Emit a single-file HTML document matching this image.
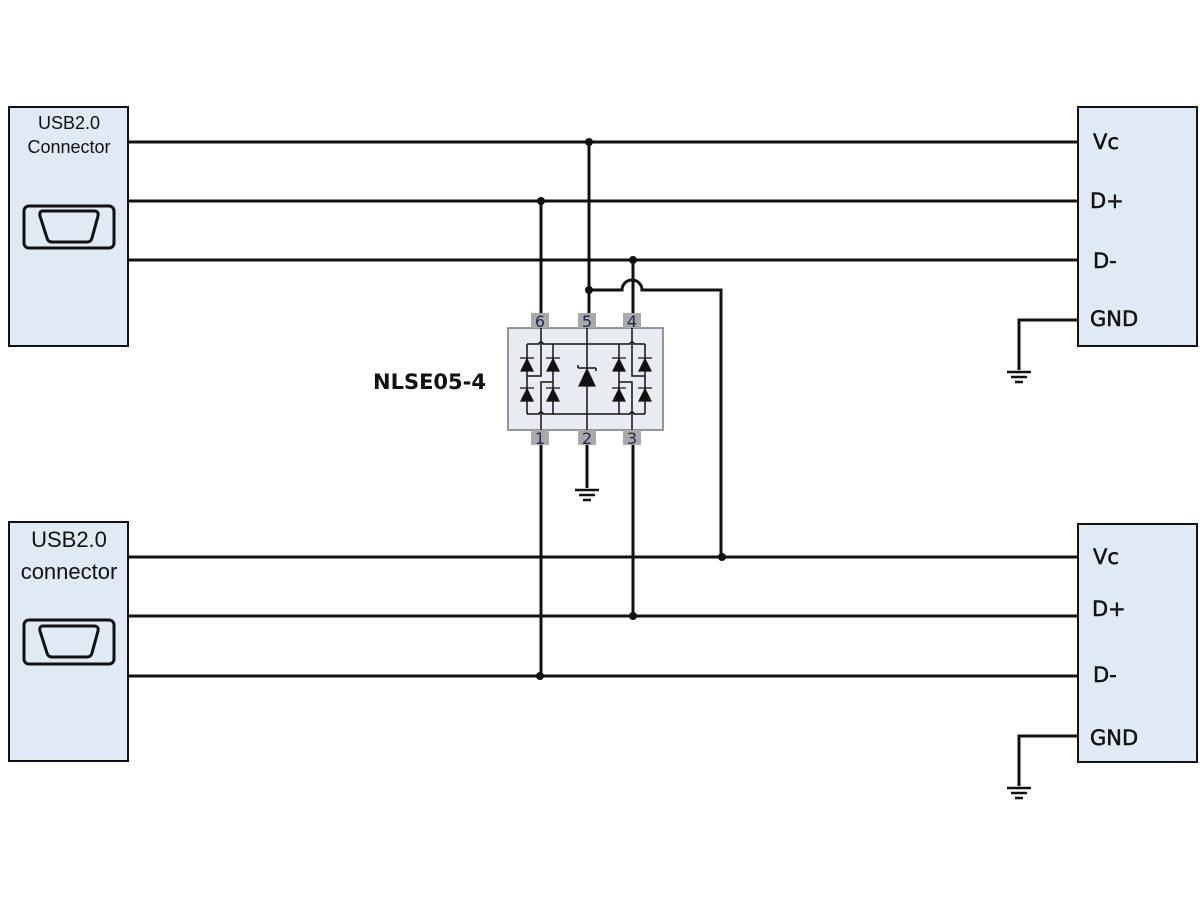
<!DOCTYPE html>
<html><head><meta charset="utf-8"><style>
html,body{margin:0;padding:0;background:#fff;}
svg{display:block;}
text{font-family:"Liberation Sans","Noto Sans CJK SC",sans-serif;}
g.b text, text.b{font-family:"DejaVu Sans","Liberation Sans",sans-serif;}
</style></head><body>
<svg width="1200" height="900" viewBox="0 0 1200 900" xmlns="http://www.w3.org/2000/svg">
<rect width="1200" height="900" fill="#fff"/>
<g fill="#dfeaf5" stroke="#111" stroke-width="2">
<rect x="9" y="107" width="119" height="239"/>
<rect x="1078" y="107" width="119" height="239"/>
<rect x="9" y="522" width="119" height="239"/>
<rect x="1078" y="524" width="119" height="238"/>
</g>
<g fill="none" stroke="#111" stroke-width="3">
<rect x="24" y="206" width="90" height="42" rx="5"/>
<path d="M43 211 H94 Q99 211 98 216 L92 238 Q91 242 87 242 H52 Q48 242 47 238 L40 216 Q39 211 43 211 Z"/>
<rect x="24" y="620" width="90" height="44" rx="5"/>
<path d="M43 626 H94 Q99 626 98 631 L92 653 Q91 657 87 657 H52 Q48 657 47 653 L40 631 Q39 626 43 626 Z"/>
</g>
<text x="69" y="129" font-size="18" text-anchor="middle" fill="#111">USB2.0</text>
<text x="69" y="153" font-size="18" text-anchor="middle" fill="#111">Connector</text>
<text x="69" y="547" font-size="22" text-anchor="middle" fill="#111">USB2.0</text>
<text x="69" y="579" font-size="22" text-anchor="middle" fill="#111">connector</text>
<g class="b" font-size="21" fill="#111" stroke="#111" stroke-width="0.5">
<text x="1093" y="149">Vc</text>
<text x="1090" y="208">D+</text>
<text x="1093" y="268">D-</text>
<text x="1090" y="326">GND</text>
<text x="1093" y="564">Vc</text>
<text x="1092" y="616">D+</text>
<text x="1093" y="682">D-</text>
<text x="1090" y="745">GND</text>
</g>
<text class="b" x="373" y="389" font-size="21" font-weight="bold" fill="#111">NLSE05-4</text>
<g stroke="#111" stroke-width="3" fill="none">
<path d="M128 142 H1078 M128 201 H1078 M128 260 H1078"/>
<path d="M128 557 H1078 M128 616 H1078 M128 676 H1078"/>
<path d="M541 201 V313 M541 444 V676"/>
<path d="M589 142 V313"/>
<path d="M633 260 V313 M633 444 V616"/>
<path d="M589 290 H622 A10 10 0 0 1 642 290 H721 V557"/>
<path d="M587 444 V488"/>
<path d="M1078 320 H1019 V370 M1078 736 H1019 V786"/>
</g>
<g stroke="#111" stroke-width="2.5">
<path d="M1007 372 H1031 M1011 377 H1027 M1015 382 H1023"/>
<path d="M1007 788 H1031 M1011 793 H1027 M1015 798 H1023"/>
<path d="M575 490 H599 M579 495 H595 M583 500 H591"/>
</g>
<g fill="#111">
<circle cx="541" cy="201" r="4"/><circle cx="589" cy="142" r="4"/><circle cx="633" cy="260" r="4"/>
<circle cx="589" cy="290" r="4"/><circle cx="722" cy="557" r="4"/><circle cx="633" cy="616" r="4"/>
<circle cx="540" cy="676" r="4"/>
</g>
<rect x="508" y="328" width="155" height="102" fill="#e8ecf2" stroke="#777" stroke-width="1.5"/>
<g fill="#a9a9a9">
<rect x="531" y="313" width="18" height="15"/><rect x="578" y="313" width="18" height="15"/><rect x="623" y="313" width="18" height="15"/>
<rect x="531" y="430" width="18" height="15"/><rect x="578" y="430" width="18" height="15"/><rect x="623" y="430" width="18" height="15"/>
</g>
<g class="b" font-size="16" fill="#1a2a55" text-anchor="middle">
<text x="540" y="327">6</text><text x="587" y="327">5</text><text x="632" y="327">4</text>
<text x="540" y="444">1</text><text x="587" y="444">2</text><text x="632" y="444">3</text>
</g>
<g stroke="#111" stroke-width="1.5" fill="none">
<path d="M527 344 H539 A2 2 0 0 1 543 344 H630 A2 2 0 0 1 634 344 H645"/>
<path d="M527 414 H539 A2 2 0 0 1 543 414 H630 A2 2 0 0 1 634 414 H645"/>
<path d="M527 344 V414 M553 344 V414 M619 344 V414 M645 344 V414"/>
<path d="M541 328 V376 H527 M541 430 V382 H553"/>
<path d="M632 328 V376 H645 M632 430 V382 H619"/>
<path d="M587 328 V430"/>
<path d="M578 368 H596 M578 368 V365 M596 368 V371"/>
</g>
<g fill="#111" stroke="#111" stroke-width="1.2">
<path d="M521 371 L533 371 L527 359 Z M520 358 H534"/>
<path d="M521 401 L533 401 L527 389 Z M520 388 H534"/>
<path d="M547 371 L559 371 L553 359 Z M546 358 H560"/>
<path d="M547 401 L559 401 L553 389 Z M546 388 H560"/>
<path d="M613 371 L625 371 L619 359 Z M612 358 H626"/>
<path d="M613 401 L625 401 L619 389 Z M612 388 H626"/>
<path d="M639 371 L651 371 L645 359 Z M638 358 H652"/>
<path d="M639 401 L651 401 L645 389 Z M638 388 H652"/>
<path d="M579 386 L595 386 L587 369 Z"/>
</g>
</svg>
</body></html>
